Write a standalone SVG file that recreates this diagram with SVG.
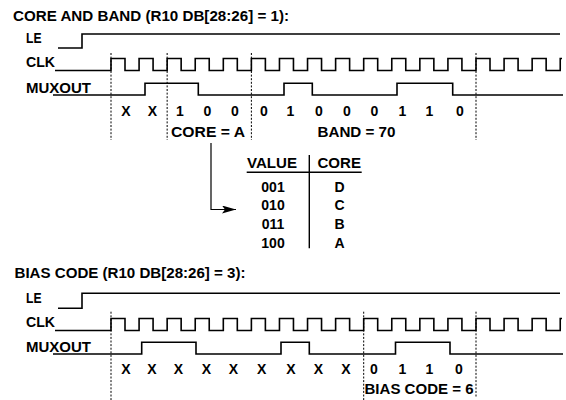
<svg xmlns="http://www.w3.org/2000/svg" width="566" height="400" viewBox="0 0 566 400">
<style>
text{font-family:"Liberation Sans",Arial,sans-serif;font-weight:bold;font-size:14px;fill:#000}
.t{font-size:14px}
.m{text-anchor:middle}
.sig{fill:none;stroke:#000;stroke-width:1.6;stroke-linejoin:miter}
.dash{stroke:#000;stroke-width:1;stroke-dasharray:2,1.6;fill:none}
.ln{stroke:#000;stroke-width:1.2;fill:none}
</style>
<defs>
<path id="clk" class="sig" d="M55,70.5 H111 V58.5 H125 V70.5 H139.08 V58.5 H153.08 V70.5 H167.15 V58.5 H181.15 V70.5 H195.23 V58.5 H209.23 V70.5 H223.31 V58.5 H237.31 V70.5 H251.38 V58.5 H265.38 V70.5 H279.46 V58.5 H293.46 V70.5 H307.54 V58.5 H321.54 V70.5 H335.62 V58.5 H349.62 V70.5 H363.69 V58.5 H377.69 V70.5 H391.77 V58.5 H405.77 V70.5 H419.85 V58.5 H433.85 V70.5 H447.92 V58.5 H461.92 V70.5 H476 V58.5 H490 V70.5 H504.08 V58.5 H518.08 V70.5 H532.15 V58.5 H546.15 V70.5 H560.23 V58.5 H562"/>
<marker id="ah" markerWidth="16" markerHeight="10" refX="14" refY="4" orient="auto" markerUnits="userSpaceOnUse">
<path d="M0,0 L14,4 L0,8 L3,4 Z" fill="#000"/>
</marker>
</defs>
<rect width="566" height="400" fill="#fff"/>

<g id="section1">
<text class="t" x="13" y="20.5" textLength="276" lengthAdjust="spacingAndGlyphs">CORE AND BAND (R10 DB[28:26] = 1):</text>
<g id="le1">
<text x="26" y="43.3" textLength="15.5" lengthAdjust="spacingAndGlyphs">LE</text>
<path class="sig" d="M58,48 H82 V34 H560"/>
</g>
<g id="clk1">
<text x="26" y="66.5" textLength="29" lengthAdjust="spacingAndGlyphs">CLK</text>
<use href="#clk"/>
</g>
<g id="mux1">
<text x="26" y="93" textLength="65" lengthAdjust="spacingAndGlyphs">MUXOUT</text>
<path class="sig" d="M53,95 H145 V83.3 H198.3 V95 H284 V83.3 H312.3 V95 H397 V83.3 H452.7 V95 H563"/>
</g>
<g id="marks1">
<path class="dash" d="M111,53 V140 M167.15,53 V140 M251.38,53 V140 M476,53 V140"/>
</g>
<g id="bits1">
<text class="m" x="126" y="115.5">X</text>
<text class="m" x="152.5" y="115.5">X</text>
<text class="m" x="180" y="115.5">1</text>
<text class="m" x="207.5" y="115.5">0</text>
<text class="m" x="235" y="115.5">0</text>
<text class="m" x="264" y="115.5">0</text>
<text class="m" x="290.5" y="115.5">1</text>
<text class="m" x="319" y="115.5">0</text>
<text class="m" x="347" y="115.5">0</text>
<text class="m" x="374.5" y="115.5">0</text>
<text class="m" x="402.5" y="115.5">1</text>
<text class="m" x="429.5" y="115.5">1</text>
<text class="m" x="460" y="115.5">0</text>
<text x="171" y="136.5" textLength="74" lengthAdjust="spacingAndGlyphs">CORE = A</text>
<text x="317.5" y="136.5" textLength="78" lengthAdjust="spacingAndGlyphs">BAND = 70</text>
</g>
</g>

<g id="table">
<text x="247" y="168.3" textLength="50" lengthAdjust="spacingAndGlyphs">VALUE</text>
<text x="317.5" y="168.3" textLength="43.5" lengthAdjust="spacingAndGlyphs">CORE</text>
<path class="ln" d="M246.7,172.3 H361.7 M309.3,155 V248.3" style="stroke-width:1.4"/>
<text class="m" x="273" y="191.5">001</text>
<text class="m" x="273" y="210.3">010</text>
<text class="m" x="273" y="229">011</text>
<text class="m" x="273" y="248">100</text>
<text class="m" x="339.5" y="191.5">D</text>
<text class="m" x="339.5" y="210.3">C</text>
<text class="m" x="339.5" y="229">B</text>
<text class="m" x="339.5" y="248">A</text>
</g>

<g id="connectors">
<path class="ln" d="M211,143 V209.5 H236" marker-end="url(#ah)"/>
</g>

<g id="section2">
<text class="t" x="14.5" y="278.3" textLength="231" lengthAdjust="spacingAndGlyphs">BIAS CODE (R10 DB[28:26] = 3):</text>
<g id="le2">
<text x="26" y="303" textLength="15.5" lengthAdjust="spacingAndGlyphs">LE</text>
<path class="sig" d="M58,308.3 H82 V293.3 H560"/>
</g>
<g id="clk2">
<text x="26" y="326.5" textLength="29" lengthAdjust="spacingAndGlyphs">CLK</text>
<use href="#clk" transform="translate(0,260)"/>
</g>
<g id="mux2">
<text x="26" y="352" textLength="65" lengthAdjust="spacingAndGlyphs">MUXOUT</text>
<path class="sig" d="M53,354 H141.7 V342.3 H196 V354 H281 V342.3 H309.3 V354 H395.5 V342.3 H450 V354 H563"/>
</g>
<g id="marks2">
<path class="dash" d="M111,311.7 V400 M363.69,311.7 V400 M476,311.7 V397"/>
</g>
<g id="bits2">
<text class="m" x="126" y="374">X</text>
<text class="m" x="152" y="374">X</text>
<text class="m" x="178.5" y="374">X</text>
<text class="m" x="206.5" y="374">X</text>
<text class="m" x="233.5" y="374">X</text>
<text class="m" x="261.7" y="374">X</text>
<text class="m" x="291" y="374">X</text>
<text class="m" x="318.3" y="374">X</text>
<text class="m" x="346" y="374">X</text>
<text class="m" x="374" y="374">0</text>
<text class="m" x="402.5" y="374">1</text>
<text class="m" x="429.5" y="374">1</text>
<text class="m" x="459" y="374">0</text>
<text x="364.5" y="393.5" textLength="109" lengthAdjust="spacingAndGlyphs">BIAS CODE = 6</text>
</g>
</g>
</svg>
